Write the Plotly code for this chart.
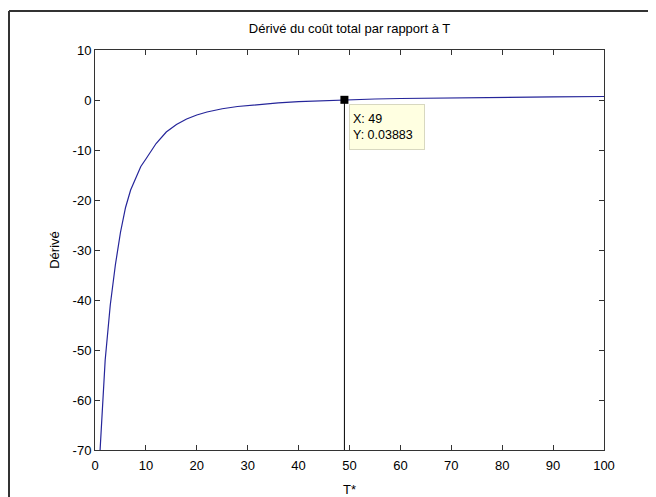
import plotly.graph_objects as go

# Data
T = [1, 2, 3, 4, 5, 6, 7, 8, 9, 10, 12, 14, 16, 18, 20, 22, 25, 28, 32, 36, 40, 45, 49,
     55, 60, 70, 80, 90, 100]
dC = [-70, -52, -41, -33, -26.5, -21.5, -18, -15.5, -13.3, -11.8, -8.7, -6.4, -4.9, -3.8,
      -3.0, -2.4, -1.75, -1.3, -0.88, -0.57, -0.33, -0.12, 0.03883,
      0.2, 0.3, 0.45, 0.55, 0.63, 0.7]

tip_x = [49]
tip_y = [0.03883]

x_range = [0, 100]
y_range = [-70, 10]
x_ticks = [0, 10, 20, 30, 40, 50, 60, 70, 80, 90, 100]
y_ticks = [10, 0, -10, -20, -30, -40, -50, -60, -70]
y_tick_text = ["10", "0", "-10", "-20", "-30", "-40", "-50", "-60", "-70"]

FONT = "Liberation Sans, Arial, sans-serif"

# figure size compensates the 8px body margin of the page
W, H = 648, 489
L, R, TOP, B = 87, 52, 42, 47
PW, PH = W - L - R, H - TOP - B

fig = go.Figure()
fig.add_trace(go.Scatter(x=T, y=dC, mode="lines",
                         line=dict(color="#25259a", width=1.2), hoverinfo="skip"))
# data cursor stem line
fig.add_trace(go.Scatter(x=[tip_x[0], tip_x[0]], y=[tip_y[0], y_range[0]], mode="lines",
                         line=dict(color="black", width=1), hoverinfo="skip"))
fig.add_trace(go.Scatter(x=tip_x, y=tip_y, mode="markers",
                         marker=dict(symbol="square", size=8, color="black"), hoverinfo="skip"))

axis_common = dict(showgrid=False, zeroline=False, showline=True, linecolor="#333333",
                   linewidth=1, ticks="inside", ticklen=5, tickcolor="#333333",
                   mirror="ticks", automargin=False,
                   tickfont=dict(family=FONT, size=13, color="black"))

fig.update_xaxes(range=x_range, tickvals=x_ticks, ticklabelstandoff=3, **axis_common,
                 title=dict(text="T*", font=dict(family=FONT, size=13, color="black"), standoff=21))
fig.update_yaxes(range=y_range, tickvals=y_ticks, ticktext=y_tick_text, **axis_common,
                 title=dict(text="Dérivé", font=dict(family=FONT, size=13, color="black"), standoff=10))

fig.add_annotation(x=tip_x[0], y=tip_y[0], xref="x", yref="y", showarrow=False,
                   text=f"X: {tip_x[0]}<br>Y: {tip_y[0]}", align="left",
                   xanchor="left", yanchor="top", xshift=5, yshift=-4,
                   width=68, height=38,
                   bgcolor="#ffffe1", bordercolor="#d8d8c0", borderwidth=1, borderpad=3,
                   font=dict(family=FONT, size=12.5, color="black"))

# outer figure frame (left and top edges visible)
fx = (1 - L) / PW
fy = 1 + (TOP - 3) / PH
fig.add_shape(type="line", xref="paper", yref="paper",
              x0=fx, x1=1.2, y0=fy, y1=fy, line=dict(color="#333333", width=2))
fig.add_shape(type="line", xref="paper", yref="paper",
              x0=fx, x1=fx, y0=fy, y1=-0.2, line=dict(color="#333333", width=2))

fig.update_layout(
    width=W, height=H,
    margin=dict(l=L, r=R, t=TOP, b=B),
    paper_bgcolor="white", plot_bgcolor="white",
    showlegend=False,
    title=dict(text="Dérivé du coût total par rapport à T", x=(L + PW / 2) / W,
               xanchor="center", y=1 - 20 / H, yanchor="middle",
               font=dict(family=FONT, size=13, color="black")),
)

fig.write_html("out.html")
